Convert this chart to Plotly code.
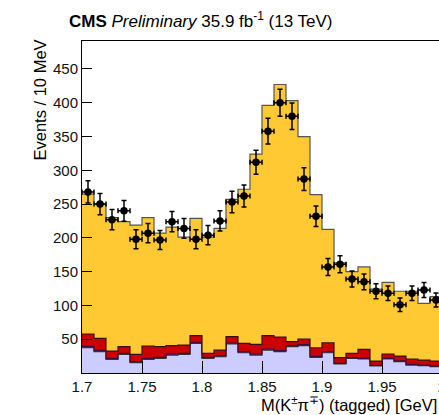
import numpy as np
import plotly.graph_objects as go

# Invariant-mass binning: 10 MeV bins starting at 1.70 GeV
n_bins = 30
edges = np.round(1.70 + 0.01 * np.arange(n_bins + 1), 3)
centers = np.round(edges[:-1] + 0.005, 4)

# Observed events per bin
data_counts = [268, 250, 227, 240, 198, 207, 197, 224, 214, 198,
               204, 225, 253, 262, 312, 358, 400, 380, 287, 232,
               157, 161, 139, 135, 121, 118, 101, 118, 123, 108]

# Stacked fit components (events per bin), bottom to top
comb_bkg = [37.5, 31.6, 20.2, 27.6, 15.3, 20.2, 21.7, 26.6, 27.6, 43.9,
            21.7, 24.1, 42.9, 30.0, 26.6, 34.0, 31.5, 38.9, 40.4, 23.2,
            30.0, 13.3, 21.7, 20.7, 10.4, 20.7, 16.8, 11.8, 10.8, 9.4]
wrong_tag = [2.0, 2.0, 1.5, 1.5, 1.5, 1.5, 1.5, 1.5, 1.5, 1.5,
             1.5, 1.5, 1.5, 1.5, 1.5, 1.5, 1.5, 1.5, 1.5, 1.5,
             1.5, 1.0, 1.0, 1.0, 1.0, 1.0, 1.0, 1.0, 1.0, 1.0]
partial_reco = [18.2, 17.7, 10.8, 9.9, 10.8, 18.3, 15.8, 12.3, 12.3, 9.8,
                5.9, 8.4, 9.3, 12.4, 14.3, 19.7, 20.2, 5.9, 8.4, 12.7,
                13.3, 8.4, 6.4, 13.3, 6.3, 6.4, 7.3, 7.9, 7.4, 7.3]
signal = [207.0, 198.7, 197.5, 185.0, 191.4, 190.0, 168.0, 175.6, 159.6, 173.8,
          171.9, 180.0, 203.3, 228.1, 281.6, 340.8, 373.8, 356.7, 299.7, 226.6,
          167.7, 140.3, 120.9, 122.0, 106.3, 105.9, 95.9, 100.3, 83.8, 95.3]

layers = [
    ("comb_bkg", comb_bkg, "#ccccff", "#333333"),
    ("wrong_tag", wrong_tag, "#9a14c8", "#3a1040"),
    ("partial_reco", partial_reco, "#cc0000", "#331111"),
    ("signal", signal, "#ffc933", "#555555"),
]

fig = go.Figure()
running = np.zeros(n_bins)
for i, (name, vals, fill_col, line_col) in enumerate(layers):
    running = running + np.asarray(vals, dtype=float)
    y_step = list(running) + [running[-1]]
    fig.add_trace(go.Scatter(
        x=edges, y=y_step, name=name, mode="lines",
        line=dict(shape="hv", color=line_col, width=1.2),
        fill="tozeroy" if i == 0 else "tonexty",
        fillcolor=fill_col, hoverinfo="skip", showlegend=False,
    ))

fig.add_trace(go.Scatter(
    x=centers, y=data_counts, mode="markers", name="data",
    marker=dict(color="black", size=7.5),
    error_y=dict(type="data", array=np.sqrt(data_counts), color="black",
                 thickness=1.5, width=2.5),
    error_x=dict(type="data", array=[0.005] * n_bins, color="black",
                 thickness=1.5, width=2.5),
    showlegend=False,
))

font_family = "Liberation Sans, Arial, Helvetica, sans-serif"

# Plot area geometry in pixels
left, top, bottom = 82, 41, 42
x_lo, x_hi = 1.70, 2.05
px_per_gev = 1200.0
plot_w = (x_hi - x_lo) * px_per_gev
fig_w = int(round(left + plot_w + 28))
fig_h = 415
plot_h = fig_h - top - bottom


def px_to_paper_x(px):
    return (px - left) / plot_w


def px_to_paper_y(py):
    return (fig_h - bottom - py) / plot_h


fig.update_layout(
    width=fig_w, height=fig_h,
    margin=dict(l=left, r=fig_w - left - int(round(plot_w)), t=top, b=bottom, pad=0),
    paper_bgcolor="white", plot_bgcolor="white",
    font=dict(family=font_family, color="black"),
    showlegend=False,
)
fig.update_xaxes(
    range=[x_lo, x_hi], showgrid=False, zeroline=False,
    showline=True, linecolor="black", linewidth=1, mirror=True,
    ticks="inside", ticklen=12, tickwidth=1, tickcolor="black",
    tickvals=[1.7, 1.75, 1.8, 1.85, 1.9, 1.95, 2.0],
    ticktext=["1.7", "1.75", "1.8", "1.85", "1.9", "1.95", "2"],
    tickfont=dict(size=15, family=font_family, color="#111111"),
)
fig.update_yaxes(
    range=[0, 491.4], showgrid=False, zeroline=False,
    showline=True, linecolor="black", linewidth=1, mirror=False,
    ticks="inside", ticklen=10, tickwidth=1, tickcolor="black",
    tickvals=[50, 100, 150, 200, 250, 300, 350, 400, 450],
    tickfont=dict(size=15, family=font_family, color="#111111"),
)

fig.add_annotation(
    text="<b>CMS</b> <i>Preliminary</i> 35.9 fb<sup>-1</sup> (13 TeV)",
    xref="paper", yref="paper", x=px_to_paper_x(67), y=px_to_paper_y(20),
    xanchor="left", yanchor="middle", showarrow=False,
    font=dict(size=17, family=font_family, color="black"),
)
fig.add_annotation(
    text="Events / 10 MeV", textangle=-90,
    xref="paper", yref="paper", x=px_to_paper_x(39), y=px_to_paper_y(37),
    xanchor="center", yanchor="top", showarrow=False,
    font=dict(size=16.5, family=font_family, color="black"),
)
fig.add_annotation(
    text="M(K<sup>±</sup>π<sup>∓</sup>) (tagged) [GeV]",
    xref="paper", yref="paper", x=px_to_paper_x(439), y=px_to_paper_y(404),
    xanchor="right", yanchor="middle", showarrow=False,
    font=dict(size=16.5, family=font_family, color="black"),
)

fig.write_html(
    "out.html",
    post_script=("document.documentElement.style.overflow='hidden';"
                 "document.body.style.overflow='hidden';"
                 "document.body.style.margin='0';"),
)
